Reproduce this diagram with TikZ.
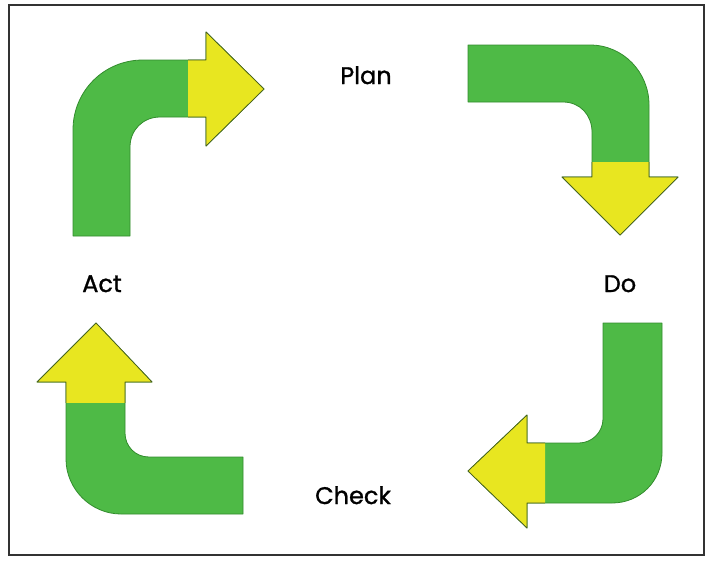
\documentclass[tikz,border=0pt]{standalone}
\usepackage{fontspec}
\setmainfont{Poppins}
\newfontfamily\lblfont{Poppins}[FakeBold=1.2]
\definecolor{agreen}{RGB}{78,186,70}
\definecolor{ayellow}{RGB}{232,230,32}
\definecolor{aedge}{RGB}{70,90,30}
\definecolor{gedge}{RGB}{50,140,45}
\definecolor{frame}{RGB}{50,50,50}
\begin{document}
\begin{tikzpicture}[x=1pt,y=-1pt,
  lbl/.style={font=\lblfont\fontsize{24}{24}\selectfont, inner sep=0pt, anchor=base},
  edge/.style={draw=aedge, line width=0.7pt, line join=round},
  gedgestyle/.style={draw=gedge, line width=0.8pt, line join=round}]
\useasboundingbox (0,0) rectangle (708,560);
\draw[frame, line width=1.4pt] (9,5) rectangle (704,555);

% Arrow 1: top-left, pointing right
\def\arrA{(73,236) -- (73,130) .. controls (73,91) and (104,60) .. (143,60) -- (206,60) -- (206,32) -- (264,89) -- (206,146) -- (206,117) -- (160,117) .. controls (143,117) and (130,130) .. (130,147) -- (130,236) -- cycle}
\fill[agreen] \arrA;
\draw[gedgestyle] \arrA;
\begin{scope}\clip (188,0) rectangle (300,200); \fill[ayellow] \arrA; \draw[edge] \arrA; \end{scope}

% Arrow 2: top-right, pointing down
\def\arrB{(468,45) -- (590,45) .. controls (623,45) and (649,72) .. (649,105) -- (649,177) -- (678,177) -- (620,235) -- (562,177) -- (592,177) -- (592,132) .. controls (592,115) and (580,102) .. (563,102) -- (468,102) -- cycle}
\fill[agreen] \arrB;
\draw[gedgestyle] \arrB;
\begin{scope}\clip (540,162) rectangle (700,250); \fill[ayellow] \arrB; \draw[edge] \arrB; \end{scope}

% Arrow 3: bottom-left, pointing up
\def\arrC{(96,323) -- (152,382) -- (125,382) -- (125,433) .. controls (125,446) and (135,457) .. (149,457) -- (243,457) -- (243,514) -- (121,514) .. controls (91,514) and (66,489) .. (66,459) -- (66,382) -- (37,382) -- cycle}
\fill[agreen] \arrC;
\draw[gedgestyle] \arrC;
\begin{scope}\clip (20,300) rectangle (170,402); \fill[ayellow] \arrC; \draw[edge] \arrC; \end{scope}

% Arrow 4: bottom-right, pointing left
\def\arrD{(603,323) -- (662,323) -- (662,453) .. controls (662,481) and (640,503) .. (612,503) -- (527,503) -- (527,528) -- (468,471) -- (527,415) -- (527,443) -- (579,443) .. controls (592,443) and (603,432) .. (603,419) -- cycle}
\fill[agreen] \arrD;
\draw[gedgestyle] \arrD;
\begin{scope}\clip (450,400) rectangle (545,540); \fill[ayellow] \arrD; \draw[edge] \arrD; \end{scope}

\node[lbl] (plan) at (366,84) {Plan};
\node[lbl] (do) at (620,292) {Do};
\node[lbl] (act) at (102,292) {Act};
\node[lbl] (check) at (353,504) {Check};
\end{tikzpicture}
\end{document}
